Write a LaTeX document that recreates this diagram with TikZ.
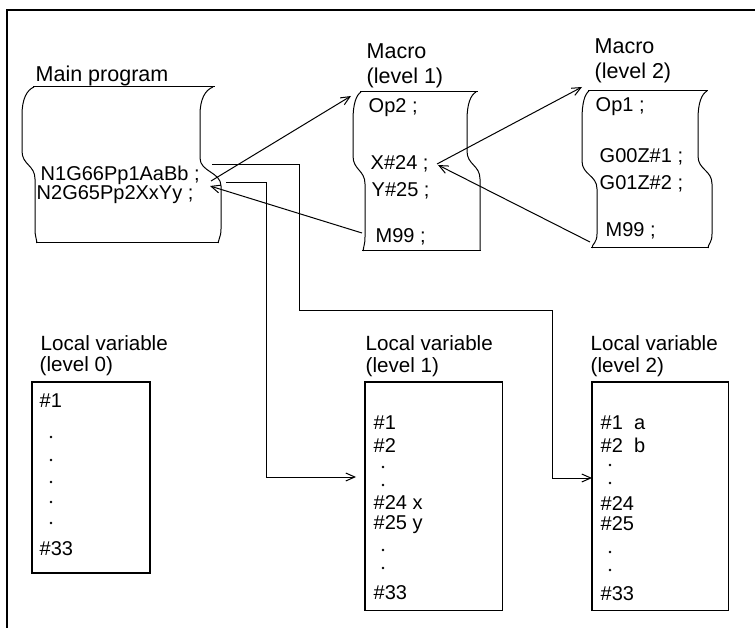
\documentclass[tikz,border=0pt]{standalone}
\usepackage{fontspec}
\setmainfont{Liberation Sans}
\usetikzlibrary{arrows.meta}
\newcommand\tapeside[7]{% xt, xu, xl, xb, T, B, ym
  \draw[shp] (#1,#5) .. controls ({#1+0.6*(#2-#1)},#5+3) and (#2,#5+12) .. (#2,#5+28)
    -- (#2,#7-14) .. controls (#2,#7) and (#3,#7) .. (#3,#7+14)
    -- (#3,#6-14) .. controls (#3,#6-5) and (#4,#6-4) .. (#4,#6);}
\begin{document}
\begin{tikzpicture}[x=1pt,y=-1pt,
  txt/.style={anchor=base west, inner sep=0pt, font=\fontsize{20}{24}\selectfont},
  head/.style={txt, font=\fontsize{21.5}{26}\selectfont},
  lhead/.style={txt, font=\fontsize{20.6}{25}\selectfont},
  vdot/.style={circle, fill=black, draw=none, inner sep=0pt, minimum size=2.8pt},
  conn/.style={line width=1pt},
  arr/.style={conn,-{Straight Barb[length=9pt,width=8pt]}},
  shp/.style={line width=1pt},
  varbox/.style={draw, line width=1.1pt}]
\useasboundingbox (0,0) rectangle (755,628);
% frame
\draw[line width=2.2pt] (7,628) -- (7,10) -- (755,10);

% main program tape
\draw[shp] (33,87) -- (215,87);
\draw[shp] (36,243) -- (219,243);
\tapeside{34}{22}{35}{37}{87}{243}{165}
\tapeside{213}{200}{221}{218}{87}{243}{172}
% macro level 1 tape
\draw[shp] (360,92) -- (478,92);
\draw[shp] (362,251) -- (481,251);
\tapeside{361}{353}{365}{363}{92}{251}{170}
\tapeside{476}{467}{480}{480}{92}{251}{165}
% macro level 2 tape
\draw[shp] (588,91) -- (708,91);
\draw[shp] (591,248) -- (709,248);
\tapeside{589}{582}{597}{592}{91}{248}{175}
\tapeside{707}{698}{712}{708}{91}{248}{170}

% labels and program text
\node[head] (mainlbl) at (35.5,82) {Main program};
\node[txt] (n1) at (40.5,181) {N1G66Pp1AaBb ;};
\node[txt] (n2) at (36.5,200) {N2G65Pp2XxYy ;};
\node[head] (m1a) at (366.5,59) {Macro};
\node[head] (m1b) at (366.5,84) {(level 1)};
\node[txt] (op2) at (368.5,113) {Op2 ;};
\node[txt] (x24) at (370.5,170) {X\#24 ;};
\node[txt] (y25) at (371.5,197) {Y\#25 ;};
\node[txt] (m99a) at (375.5,243) {M99 ;};
\node[head] (m2a) at (594.5,54) {Macro};
\node[head] (m2b) at (594.5,79) {(level 2)};
\node[txt] (op1) at (595.5,112) {Op1 ;};
\node[txt] (g00) at (599.5,163) {G00Z\#1 ;};
\node[txt] (g01) at (599.5,190) {G01Z\#2 ;};
\node[txt] (m99b) at (605.5,237) {M99 ;};

% local variable boxes
\node[lhead] (l0a) at (40.5,350) {Local variable};
\node[lhead] (l0b) at (39.5,371) {(level 0)};
\node[lhead] (l1a) at (365.5,350) {Local variable};
\node[lhead] (l1b) at (365.5,372) {(level 1)};
\node[lhead] (l2a) at (590.5,350) {Local variable};
\node[lhead] (l2b) at (590.5,372) {(level 2)};
\draw[varbox] (32,382) rectangle (150,573);
\node[draw=none, inner sep=0pt, minimum width=137pt, minimum height=228pt, anchor=north west] (box1) at (365,382) {};
\draw[varbox] (box1.north west) rectangle (box1.south east);
\node[draw=none, inner sep=0pt, minimum width=136pt, minimum height=228pt, anchor=north west] (box2) at (592,382) {};
\draw[varbox] (box2.north west) rectangle (box2.south east);

% level 0 contents
\node[txt] (a1) at (39.5,407) {\#1};
\node[vdot] (ad1) at (51,437) {};
\node[vdot] (ad2) at (51,460) {};
\node[vdot] (ad3) at (51,482) {};
\node[vdot] (ad4) at (51,502) {};
\node[vdot] (ad5) at (51,523) {};
\node[txt] (a33) at (39.5,555) {\#33};
% level 1 contents
\node[txt] (b1) at (373.5,429) {\#1};
\node[txt] (b2) at (373.5,452) {\#2};
\node[vdot] (bd1) at (383,467) {};
\node[vdot] (bd2) at (383,485) {};
\node[txt] (b24) at (373.5,509) {\#24 x};
\node[txt] (b25) at (373.5,529) {\#25 y};
\node[vdot] (bd3) at (383,550) {};
\node[vdot] (bd4) at (383,568) {};
\node[txt] (b33) at (373.5,599) {\#33};
% level 2 contents
\node[txt] (c1) at (600.5,429) {\#1\ \ a};
\node[txt] (c2) at (600.5,452) {\#2\ \ b};
\node[vdot] (cd1) at (610,465) {};
\node[vdot] (cd2) at (610,483) {};
\node[txt] (c24) at (600.5,510) {\#24};
\node[txt] (c25) at (600.5,530) {\#25};
\node[vdot] (cd3) at (610,552) {};
\node[vdot] (cd4) at (610,570) {};
\node[txt] (c33) at (600.5,600) {\#33};

% connector end points
\coordinate (n1out) at (211,181);
\coordinate (n2in) at (210,186);
\coordinate (m1top) at (351,96);
\coordinate (m1ret) at (362,233);
\coordinate (x24pt) at (437,164);
\coordinate (x24in) at (438,165);
\coordinate (m2top) at (582,87);
\coordinate (m2ret) at (590,242);
\coordinate (e1s) at (212,165);
\coordinate (e2s) at (226,183);
\coordinate (b1in) at (356,477);

% connectors
\draw[arr] (n1out) -- (m1top);
\draw[arr] (m1ret) -- (n2in);
\draw[arr] (x24pt) -- (m2top);
\draw[arr] (m2ret) -- (x24in);
\draw[arr] (e1s) -- (299,165) -- (299,311) -- (552,311) -- (552,478) -- (box2.west |- 0,478);
\draw[arr] (e2s) -- (266,183) -- (266,477) -- (b1in);
\end{tikzpicture}
\end{document}
